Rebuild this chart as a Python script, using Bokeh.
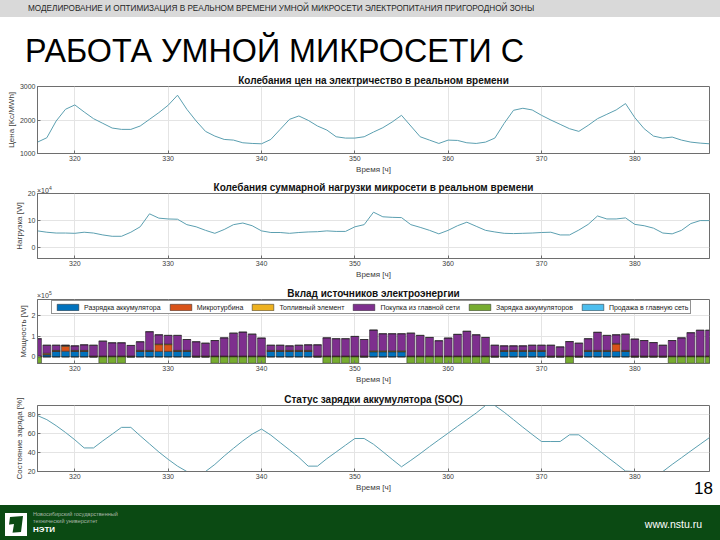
from bokeh.plotting import figure
from bokeh.models import (Range1d, FixedTicker, Legend, LegendItem,
                          ColumnDataSource, Div)
from bokeh.layouts import column
from bokeh.embed import file_html
from bokeh.resources import INLINE

# ---------------- data ----------------
hours = list(range(316, 389))
x_ticks = [320, 330, 340, 350, 360, 370, 380]

price = [1340, 1470, 1970, 2320, 2450, 2240, 2040, 1900, 1760, 1720,
         1720, 1820, 2020, 2220, 2440, 2740, 2320, 1970, 1660, 1520,
         1420, 1400, 1320, 1300, 1290, 1420, 1720, 2020, 2120, 1990,
         1820, 1700, 1500, 1460, 1460, 1500, 1640, 1770, 1940, 2140,
         1820, 1500, 1400, 1300, 1400, 1390, 1320, 1300, 1340, 1460,
         1900, 2290, 2350, 2300, 2140, 2000, 1870, 1740, 1660, 1840,
         2040, 2170, 2300, 2490, 2070, 1740, 1520, 1460, 1490, 1400,
         1340, 1310, 1290]

load_e4 = [6.2, 5.7, 5.4, 5.4, 5.3, 5.7, 5.4, 4.7, 4.2, 4.2,
           5.7, 7.7, 12.5, 10.9, 10.6, 10.5, 8.5, 7.7, 6.4, 5.3,
           6.7, 8.5, 9.1, 8.1, 6.2, 5.6, 5.6, 5.3, 5.6, 5.8,
           5.9, 6.2, 6.0, 6.0, 7.7, 8.5, 13.1, 11.4, 11.2, 11.1,
           8.5, 7.5, 6.4, 5.1, 6.4, 8.1, 9.4, 7.9, 6.4, 5.8,
           5.3, 5.2, 5.3, 5.4, 5.6, 5.7, 4.7, 4.7, 6.5, 8.6,
           11.7, 10.6, 10.6, 11.0, 8.6, 8.1, 7.2, 5.4, 5.1, 6.4,
           8.9, 10.0, 10.0]

soc = [79.3, 75.0, 68.6, 61.4, 53.6, 45.0, 45.0, 52.5, 59.6, 66.8,
       66.8, 57.9, 49.3, 40.7, 32.9, 25.7, 20.0, 20.0, 20.0, 27.5,
       36.4, 44.6, 52.5, 59.6, 65.0, 58.6, 50.7, 42.9, 35.0, 25.7,
       25.7, 33.6, 40.7, 47.9, 55.0, 55.0, 48.9, 41.0, 32.9, 25.0,
       31.8, 38.9, 46.4, 53.6, 60.7, 67.9, 75.0, 82.0, 90.0, 90.0,
       82.9, 75.0, 67.0, 59.3, 51.8, 51.8, 51.8, 58.9, 58.9, 51.4,
       43.6, 35.7, 28.2, 20.4, 20.0, 20.0, 20.0, 20.0, 27.5, 34.6,
       41.8, 48.9, 56.0]

# power contributions, units of 1e5 W
discharge = [0, 0.10, 0.27, 0.28, 0.27, 0.27, 0, 0, 0, 0,
             0, 0.27, 0.27, 0.27, 0.27, 0.27, 0.27, 0, 0, 0,
             0, 0, 0, 0, 0, 0.27, 0.27, 0.27, 0.27, 0.27,
             0, 0, 0, 0, 0, 0, 0.25, 0.25, 0.25, 0.25,
             0, 0, 0, 0, 0, 0, 0, 0, 0, 0,
             0.27, 0.27, 0.27, 0.27, 0.27, 0, 0, 0, 0, 0.27,
             0.27, 0.27, 0.27, 0.27, 0, 0, 0, 0, 0, 0,
             0, 0, 0]
microturbine = [0.03, 0.03, 0.02, 0.24, 0.02, 0.02, 0.03, 0.03, 0.03, 0.03,
                0.03, 0.02, 0.02, 0.33, 0.33, 0.02, 0.02, 0.03, 0.03, 0.03,
                0.03, 0.03, 0.03, 0.03, 0.03, 0.02, 0.02, 0.02, 0.02, 0.02,
                0.03, 0.03, 0.03, 0.03, 0.03, 0.03, 0.02, 0.02, 0.02, 0.02,
                0.03, 0.03, 0.03, 0.03, 0.03, 0.03, 0.03, 0.03, 0.03, 0.03,
                0.02, 0.02, 0.02, 0.02, 0.02, 0.03, 0.03, 0.03, 0.03, 0.02,
                0.02, 0.02, 0.36, 0.02, 0.03, 0.03, 0.03, 0.03, 0.03, 0.03,
                0.03, 0.03, 0.03]
fuel_cell = [0.02, 0.05, 0.03, 0.03, 0.03, 0.03, 0.02, 0.02, 0.02, 0.02,
             0.02, 0.03, 0.03, 0.03, 0.03, 0.03, 0.03, 0.02, 0.02, 0.02,
             0.02, 0.02, 0.02, 0.02, 0.02, 0.03, 0.03, 0.03, 0.03, 0.03,
             0.02, 0.02, 0.02, 0.02, 0.02, 0.02, 0.03, 0.03, 0.03, 0.03,
             0.02, 0.02, 0.02, 0.02, 0.02, 0.02, 0.02, 0.02, 0.02, 0.02,
             0.03, 0.03, 0.03, 0.03, 0.03, 0.02, 0.02, 0.02, 0.02, 0.03,
             0.03, 0.03, 0.03, 0.03, 0.02, 0.02, 0.02, 0.02, 0.02, 0.02,
             0.02, 0.02, 0.02]
grid_buy = [0.84, 0.39, 0.25, 0.02, 0.22, 0.27, 0.52, 0.72, 0.64, 0.64,
            0.51, 0.42, 0.91, 0.45, 0.42, 0.73, 0.53, 0.69, 0.62, 0.75,
            0.88, 1.11, 1.16, 1.06, 0.87, 0.25, 0.25, 0.22, 0.25, 0.27,
            0.54, 0.88, 0.84, 0.84, 0.95, 0.80, 1.01, 0.83, 0.83, 0.83,
            1.11, 1.00, 0.90, 0.74, 0.87, 1.05, 1.20, 1.03, 0.90, 0.52,
            0.22, 0.22, 0.22, 0.25, 0.25, 0.52, 0.44, 0.70, 0.62, 0.57,
            0.88, 0.73, 0.42, 0.79, 0.82, 0.75, 0.65, 0.52, 0.75, 0.88,
            1.13, 1.25, 1.25]
charging = [-0.31, 0, 0, 0, 0, 0, 0, -0.31, -0.31, -0.31,
            0, 0, 0, 0, 0, 0, 0, 0, 0, -0.31,
            -0.31, -0.31, -0.31, -0.31, -0.31, 0, 0, 0, 0, 0,
            0, -0.31, -0.31, -0.31, -0.31, 0, 0, 0, 0, 0,
            -0.31, -0.31, -0.31, -0.31, -0.31, -0.31, -0.31, -0.31, -0.31, 0,
            0, 0, 0, 0, 0, 0, 0, -0.31, 0, 0,
            0, 0, 0, 0, 0, 0, 0, 0, -0.31, -0.31,
            -0.31, -0.31, -0.31]
grid_sell = [0] * 73

series_names = ["Разрядка аккумулятора", "Микротурбина", "Топливный элемент",
                "Покупка из главной сети", "Зарядка аккумуляторов",
                "Продажа в главную сеть"]

# ---------------- styles ----------------
FONT = "Liberation Sans"
W = 720
LEFT, RIGHT = 37, 11
LINE_C = "#5b9fb0"
AX_C = "#6e6e6e"
TXT_C = "#404040"
GRID_C = "#e4e4e4"
C_BLUE, C_ORANGE, C_YELLOW = "#0072BD", "#D95319", "#EDB120"
C_PURPLE, C_GREEN, C_LBLUE = "#7E2F8E", "#77AC30", "#4DBEEE"


def style_axis(ax):
    ax.axis_line_color = AX_C
    ax.major_tick_line_color = AX_C
    ax.major_tick_in = 3
    ax.major_tick_out = 0
    ax.minor_tick_line_color = None
    ax.major_label_text_font = FONT
    ax.major_label_text_color = TXT_C
    ax.major_label_text_font_size = "7px"
    ax.major_label_standoff = 2
    ax.axis_label_text_font = FONT
    ax.axis_label_text_font_size = "8px"
    ax.axis_label_text_font_style = "normal"
    ax.axis_label_text_color = TXT_C
    ax.axis_label_standoff = 1


def panel(height, top, bottom, title, ylabel, yr, yticks):
    p = figure(width=W, height=height, x_range=Range1d(316, 388),
               y_range=Range1d(*yr), output_backend="svg",
               toolbar_location=None, title=title,
               min_border_left=LEFT, min_border_right=RIGHT,
               min_border_top=top, min_border_bottom=bottom)
    p.title.align = "center"
    p.title.text_font = FONT
    p.title.text_font_size = "10px"
    p.title.text_font_style = "bold"
    p.title.text_color = "#111111"
    p.title.standoff = 2
    p.xaxis.ticker = FixedTicker(ticks=x_ticks)
    p.yaxis.ticker = FixedTicker(ticks=yticks)
    p.xaxis.axis_label = "Время [ч]"
    p.yaxis.axis_label = ylabel
    style_axis(p.xaxis[0])
    style_axis(p.yaxis[0])
    p.xgrid.grid_line_color = GRID_C
    p.ygrid.grid_line_color = GRID_C
    p.outline_line_color = AX_C
    p.background_fill_color = "white"
    p.border_fill_color = "white"
    return p


# ---------------- header (HTML) ----------------
hdr_html = (
    "<div style=\"position:relative;width:720px;height:70px;"
    "font-family:'Liberation Sans',Arial,sans-serif;\">"
    "<div style=\"position:absolute;left:0;top:0;width:720px;height:17px;background:#d9d9d9;\"></div>"
    "<div style=\"position:absolute;left:28px;top:0;height:17px;line-height:17px;"
    "font-size:8.2px;color:#262626;white-space:nowrap;\">"
    "МОДЕЛИРОВАНИЕ И ОПТИМИЗАЦИЯ В РЕАЛЬНОМ ВРЕМЕНИ УМНОЙ МИКРОСЕТИ ЭЛЕКТРОПИТАНИЯ ПРИГОРОДНОЙ ЗОНЫ</div>"
    "<div style=\"position:absolute;left:25px;top:33px;font-size:32.3px;line-height:36px;"
    "color:#000;white-space:nowrap;\">РАБОТА УМНОЙ МИКРОСЕТИ С</div>"
    "</div>"
)
hdr = Div(text=hdr_html, width=W, height=70, margin=0)

# ---------------- panel 1: price ----------------
p1 = panel(107, 16, 24, "Колебания цен на электричество в реальном времени",
           "Цена [Kc/MWh]", (1000, 3000), [1000, 2000, 3000])
p1.line(hours, price, line_color=LINE_C, line_width=1)

# ---------------- panel 2: load ----------------
p2 = panel(107, 16, 26, "Колебания суммарной нагрузки микросети в реальном времени",
           "Нагрузка [W]", (-4, 20), [0, 10, 20])
p2.line(hours, load_e4, line_color=LINE_C, line_width=1)

# ---------------- panel 3: sources ----------------
p3 = panel(104, 14, 25, "Вклад источников электроэнергии",
           "Мощность [W]", (-0.32, 2.8), [0, 1, 2])
src = ColumnDataSource(dict(hour=hours, dis=discharge, mt=microturbine,
                            fc=fuel_cell, buy=grid_buy, sell=grid_sell,
                            chg=charging, zero=[0] * len(hours)))
stack = p3.vbar_stack(["dis", "mt", "fc", "buy", "sell"], x="hour", width=0.85,
                      fill_color=[C_BLUE, C_ORANGE, C_YELLOW, C_PURPLE, C_LBLUE],
                      line_color="#222222", line_width=0.5, source=src)
rg = p3.vbar(x="hour", top="zero", bottom="chg", width=0.85, fill_color=C_GREEN,
             line_color="#222222", line_width=0.5, source=src)
legend = Legend(items=[
    LegendItem(label=series_names[0], renderers=[stack[0]]),
    LegendItem(label=series_names[1], renderers=[stack[1]]),
    LegendItem(label=series_names[2], renderers=[stack[2]]),
    LegendItem(label=series_names[3], renderers=[stack[3]]),
    LegendItem(label=series_names[4], renderers=[rg]),
    LegendItem(label=series_names[5], renderers=[stack[4]]),
], orientation="horizontal", location=(14, 49), glyph_width=27, glyph_height=8,
    label_height=8, label_width=10, label_standoff=3, spacing=6, padding=2,
    margin=0, label_text_font=FONT, label_text_font_size="7px",
    label_text_color="#222222", border_line_color="#262626",
    border_line_width=0.75, background_fill_color="white",
    background_fill_alpha=1.0)
p3.add_layout(legend)

# ---------------- panel 4: SOC ----------------
p4 = panel(117, 17, 34, "Статус зарядки аккумулятора (SOC)",
           "Состояние заряда [%]", (20, 90), [20, 40, 60, 80])
p4.line(hours, soc, line_color=LINE_C, line_width=1)

# ---------------- footer (HTML, also carries the texts that sit outside plot frames) ----------------
ftr_html = (
    "<div style=\"position:relative;width:720px;height:35px;overflow:visible;"
    "font-family:'Liberation Sans',Arial,sans-serif;\">"
    "<div style=\"position:absolute;left:0;top:0;width:720px;height:35px;background:#0b4a13;\"></div>"
    "<svg style=\"position:absolute;left:4px;top:7px\" width=\"26\" height=\"26\">"
    "<polygon points=\"1,1 23,1 23,24 1,24\" fill=\"white\"/>"
    "<polygon points=\"6,5 19,4 17,20 4,21\" fill=\"#0b4a13\"/>"
    "<polygon points=\"2,13 10,12 8,24 1,24\" fill=\"white\"/>"
    "</svg>"
    "<div style=\"position:absolute;left:33px;top:6px;font-size:5.5px;line-height:6.5px;"
    "color:#a9b7a9;white-space:nowrap;\">Новосибирский государственный<br>технический университет</div>"
    "<div style=\"position:absolute;left:33px;top:20px;font-size:8px;line-height:10px;"
    "font-weight:bold;color:white;\">НЭТИ</div>"
    "<div style=\"position:absolute;right:18px;top:13px;font-size:10.5px;line-height:12px;"
    "color:white;\">www.nstu.ru</div>"
    "<div style=\"position:absolute;right:7px;top:-25px;font-size:17px;line-height:17px;"
    "color:#000;z-index:10;\">18</div>"
    "<div style=\"position:absolute;left:37px;top:-321px;font-size:7px;line-height:8px;"
    "color:#404040;z-index:10;white-space:nowrap;\">×10<sup style=\"font-size:5px\">4</sup></div>"
    "<div style=\"position:absolute;left:37px;top:-216px;font-size:7px;line-height:8px;"
    "color:#404040;z-index:10;white-space:nowrap;\">×10<sup style=\"font-size:5px\">5</sup></div>"
    "</div>"
)
ftr = Div(text=ftr_html, width=W, height=35, margin=0)

layout = column(hdr, p1, p2, p3, p4, ftr, spacing=0)
open("out.html", "w").write(file_html(layout, INLINE))
